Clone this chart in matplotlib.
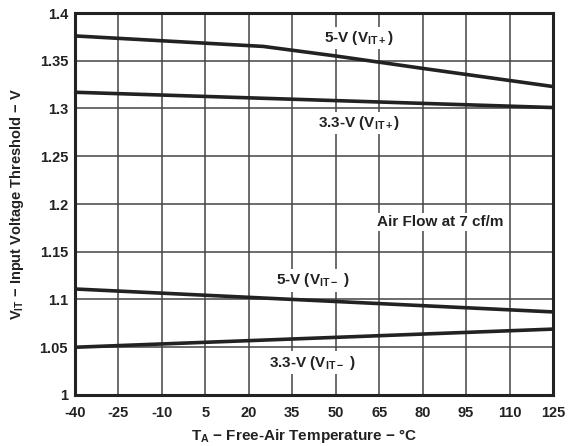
import matplotlib
matplotlib.use("Agg")
import matplotlib.pyplot as plt

plt.rcParams['font.family'] = ['Liberation Sans', 'DejaVu Sans']
plt.rcParams['font.weight'] = 'bold'
plt.rcParams['axes.unicode_minus'] = False
plt.rcParams['mathtext.fontset'] = 'custom'
plt.rcParams['mathtext.rm'] = 'Liberation Sans:bold'
plt.rcParams['mathtext.it'] = 'Liberation Sans:bold'
plt.rcParams['mathtext.bf'] = 'Liberation Sans:bold'
plt.rcParams['mathtext.default'] = 'bf'

# Threshold curves (temperature in °C, threshold in V)
temp_5v_pos = [-40, 25, 50, 80, 125]
vit_5v_pos = [1.376, 1.365, 1.355, 1.342, 1.323]

temp_33v_pos = [-40, 125]
vit_33v_pos = [1.317, 1.301]

temp_5v_neg = [-40, 125]
vit_5v_neg = [1.111, 1.087]

temp_33v_neg = [-40, 125]
vit_33v_neg = [1.050, 1.069]

x_ticks = [-40, -25, -10, 5, 20, 35, 50, 65, 80, 95, 110, 125]
y_ticks = [1, 1.05, 1.1, 1.15, 1.2, 1.25, 1.3, 1.35, 1.4]
y_tick_labels = ['1', '1.05', '1.1', '1.15', '1.2', '1.25', '1.3', '1.35', '1.4']

fig = plt.figure(figsize=(5.68, 4.46), dpi=100)
ax = fig.add_axes([75 / 568, 1 - 395 / 446, 478 / 568, 382 / 446])

line_kw = dict(color='#222222', lw=2.6, solid_capstyle='butt', zorder=3)
ax.plot(temp_5v_pos, vit_5v_pos, **line_kw)
ax.plot(temp_33v_pos, vit_33v_pos, **line_kw)
ax.plot(temp_5v_neg, vit_5v_neg, **line_kw)
ax.plot(temp_33v_neg, vit_33v_neg, **line_kw)

ax.set_xlim(-40, 125)
ax.set_ylim(1, 1.4)
ax.set_xticks(x_ticks)
ax.set_xticklabels([str(t) for t in x_ticks])
ax.set_yticks(y_ticks)
ax.set_yticklabels(y_tick_labels)
ax.tick_params(length=0, labelsize=10.5, colors='#222222')
ax.tick_params(axis='x', pad=8)
ax.tick_params(axis='y', pad=5)
for lbl in ax.get_xticklabels() + ax.get_yticklabels():
    lbl.set_fontweight('bold')

ax.grid(True, color='#444444', lw=1.1, zorder=1)
for s in ax.spines.values():
    s.set_linewidth(2.2)
    s.set_color('#222222')

box = dict(facecolor='white', edgecolor='none', pad=1.5)
txt_kw = dict(ha='center', va='center', fontsize=11, fontweight='bold',
              color='#222222', bbox=box, zorder=4)
ax.text(58, 1.374, r'5-V (V$_{IT+}$)', **txt_kw)
ax.text(58, 1.285, r'3.3-V (V$_{IT+}$)', **txt_kw)
ax.text(86, 1.181, 'Air Flow at 7 cf/m', **txt_kw)
ax.text(42, 1.120, r'5-V (V$_{IT-}$ )', **txt_kw)
ax.text(42, 1.034, r'3.3-V (V$_{IT-}$ )', **txt_kw)

ax.set_xlabel(r'T$_{A}$ − Free-Air Temperature − °C',
              fontsize=11, fontweight='bold', color='#222222', labelpad=3)
ax.set_ylabel(r'V$_{IT}$ − Input Voltage Threshold − V',
              fontsize=10.5, fontweight='bold', color='#222222', labelpad=10)
ax.xaxis.set_label_coords((304 - 75) / 478, -0.085)

fig.savefig('out.png', dpi=100, facecolor='white')
